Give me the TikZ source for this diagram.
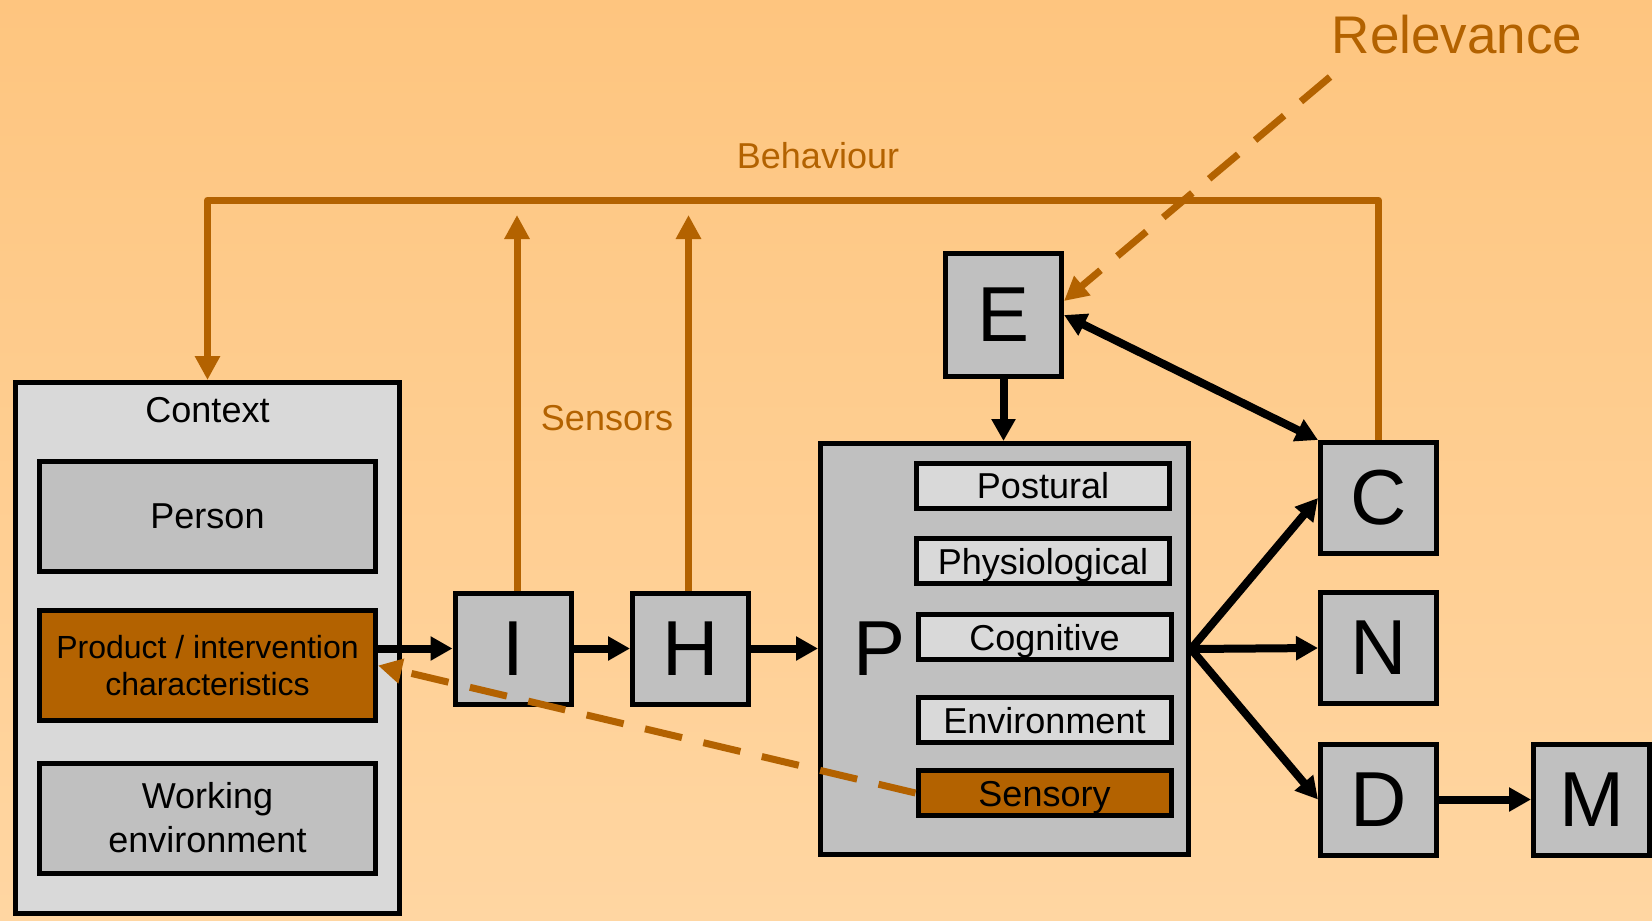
\documentclass[tikz,border=0pt]{standalone}
\usepackage{fontspec}
\setmainfont{Liberation Sans}
\usetikzlibrary{positioning, arrows.meta, calc}
\definecolor{bgtop}{HTML}{FEC57F}
\definecolor{bgbot}{HTML}{FFD6A2}
\definecolor{rust}{HTML}{B36200}
\definecolor{boxgrey}{HTML}{C0C0C0}
\definecolor{palegrey}{HTML}{D9D9D9}
\tikzset{
  % --- boxes ---
  letterbox/.style={draw, line width=5pt, fill=boxgrey, inner sep=0pt,
    minimum width=116pt, minimum height=111pt, font=\fontsize{78}{80}\selectfont},
  ctxbox/.style={draw, line width=5pt, fill=palegrey, inner sep=0pt,
    minimum width=384pt, minimum height=531pt},
  ctxpart/.style={draw, line width=5pt, fill=boxgrey, inner sep=0pt, align=center,
    minimum width=336pt, minimum height=110pt, font=\fontsize{36}{44}\selectfont},
  hotpart/.style={fill=rust, font=\fontsize{32}{37}\selectfont},
  pfactor/.style={draw, line width=5pt, fill=palegrey, inner sep=0pt,
    minimum width=253pt, minimum height=45pt, text height=26pt, text depth=0pt,
    font=\fontsize{36}{40}\selectfont},
  % --- connectors ---
  flow/.style={-{Triangle[length=22pt, width=23pt]}, line width=8pt},
  twoway/.style={{Triangle[length=22pt, width=23pt]}-{Triangle[length=22pt, width=23pt]},
    line width=8pt},
  feedback/.style={rust, line width=7pt, line join=round},
  feedtip/.style={feedback, -{Triangle[length=24pt, width=24pt]}},
  relv/.style={rust, line width=7pt, dash pattern=on 38pt off 22pt,
    -{Triangle[length=24pt, width=24pt]}},
  note/.style={text=rust, inner sep=0pt},
}

\begin{document}
\begin{tikzpicture}[x=1pt, y=-1pt]
    \useasboundingbox (0,0) rectangle (1652,921);
    \shade[top color=bgtop, bottom color=bgbot] (0,0) rectangle (1652,921);
    % ---- Context ----
    \node[ctxbox] (ctx) at (207.5,648) {};
    \node[font=\fontsize{36}{40}\selectfont] (ctxlbl) at ($(ctx.north)+(0,30)$) {Context};
    \node[ctxpart] (person) at (207.5,516.5) {Person};
    \node[ctxpart, hotpart] (product) at (207.5,665.5) {Product / intervention\\characteristics};
    \node[ctxpart] (workenv) at (207.5,818) {Working\\environment};
    % ---- Chain ----
    \node[letterbox] (I) at (513,648.5) {I};
    \node[letterbox] (H) at (690.5,648.5) {H};
    \node[letterbox, minimum width=368pt, minimum height=411pt] (P) at (1004.5,649) {};
    \node[font=\fontsize{78}{80}\selectfont] (plbl) at ($(P.west)+(62,0)$) {P};
    \node[pfactor] (postural) at (1043,485.5) {Postural};
    \node[pfactor] (physio) at (1043,561) {Physiological};
    \node[pfactor] (cognitive) at (1044.5,637) {Cognitive};
    \node[pfactor] (environ) at (1044.5,720) {Environment};
    \node[pfactor, fill=rust] (sensory) at (1044.5,793) {Sensory};
    \node[letterbox, minimum height=123pt] (E) at (1003.5,315) {E};
    \node[letterbox] (C) at (1378.5,498) {C};
    \node[letterbox] (N) at (1378.5,648) {N};
    \node[letterbox] (D) at (1378.5,799.5) {D};
    \node[letterbox] (M) at (1591.5,799.5) {M};
    % ---- Labels ----
    \node[note, font=\fontsize{36}{40}\selectfont] (behav) at (818,156) {Behaviour};
    \node[note, font=\fontsize{36}{40}\selectfont] (sens) at (607,418) {Sensors};
    \node[note, font=\fontsize{53}{58}\selectfont] (relev) at (1457,35) {Relevance};
    \coordinate (bhv) at (800,200);
    \coordinate (senstop) at (0,215);
    \coordinate (relvstart) at (1330,77);
    % ---- Black arrows ----
    \draw[flow] (product.east |- I.west) -- (I.west);
    \draw[flow] (I) -- (H);
    \draw[flow] (H.east) -- (H.east -| P.west);
    \draw[flow] (E.south) -- (E.south |- P.north);
    \foreach \t in {C,N,D}{ \draw[flow] (P.east) -- (\t.west); }
    \draw[flow] (D) -- (M);
    \draw[twoway] (E.east) -- (C.north west);
    % ---- Behaviour and sensors ----
    \draw[feedtip] (C.north) |- (bhv) -| (ctx.north);
    \draw[feedtip] ([xshift=4pt]I.north) -- ([xshift=4pt]I.north |- senstop);
    \draw[feedtip] ([xshift=-2pt]H.north) -- ([xshift=-2pt]H.north |- senstop);
    % ---- Relevance ----
    \draw[relv] (relvstart) -- ([yshift=14pt]E.east);
    \draw[relv] (sensory.west) -- (product.east);
  \end{tikzpicture}
\end{document}
